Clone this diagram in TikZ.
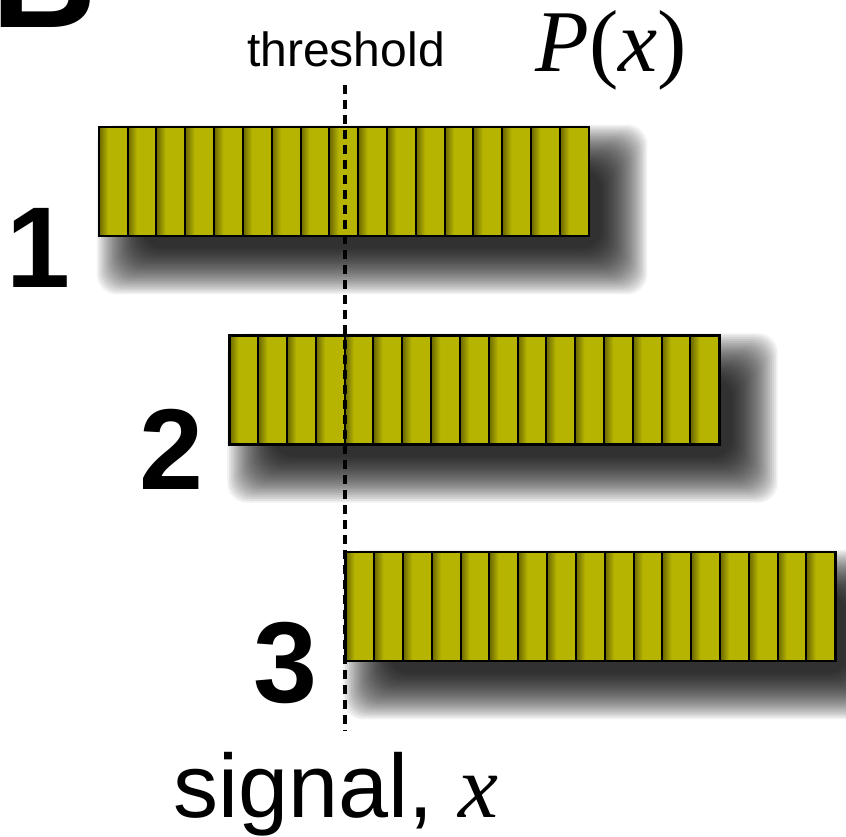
\documentclass[tikz,border=0pt]{standalone}
\usepackage{fontspec}
\setmainfont{Liberation Sans}
\newfontfamily\tms{Liberation Serif}
\usetikzlibrary{calc}
\definecolor{olivemain}{RGB}{182,180,0}
\definecolor{olivedark}{RGB}{105,102,0}
\pgfdeclarehorizontalshading{cellsh}{100bp}{color(0bp)=(olivedark); color(25bp)=(olivedark); color(41bp)=(olivemain); color(100bp)=(olivemain)}
\tikzset{
  barbox/.style={minimum width=490pt, minimum height=109pt, inner sep=0pt},
  shadowlayer/.style={fill=black, opacity=0.06, rounded corners=20pt},
  cellshade/.style={shading=cellsh},
  celline/.style={line width=2pt, draw=black},
  numlabel/.style={anchor=base, inner sep=0pt, font=\fontsize{115}{125}\selectfont\bfseries},
  thresh/.style={line width=3.5pt, dash pattern=on 9pt off 6pt},
}
\newcommand{\cellw}{28.82}
\begin{document}
\begin{tikzpicture}[x=1pt,y=-1pt]
\useasboundingbox (0,0) rectangle (846,837);
\clip (0,0) rectangle (846,837);
\fill[white] (0,0) rectangle (846,837);

% partial panel letter
\node[anchor=base west, inner sep=0pt, font=\fontsize{146}{150}\selectfont\bfseries] (B) at (-9,28) {B};

% bars
\node[barbox] (b1) at (344,181.5) {};
\node[barbox] (b2) at (474.5,390) {};
\node[barbox] (b3) at (590.5,606.5) {};
\foreach \b in {b1,b2,b3}{
  \foreach \k in {0,...,24}{
    \pgfmathsetmacro{\dd}{-30+\k*1.9}
    \fill[shadowlayer] ($(\b.north west)+(28+\dd,28+\dd)$) rectangle ($(\b.south east)+(28-\dd,28-\dd)$);
  }
  \foreach \i in {0,...,16}{
    \shade[cellshade] ($(\b.north west)+(\i*\cellw,0)$) rectangle ++(\cellw,109);
    \draw[celline] ($(\b.north west)+(\i*\cellw,0)$) rectangle ++(\cellw,109);
  }
  \draw[line width=2.5pt] (\b.north west) rectangle (\b.south east);
}

% threshold line
\coordinate (t1) at (345,85);
\coordinate (t2) at (345,731);
\draw[thresh] (t1) -- (t2);

% texts
\node[anchor=base, inner sep=0pt, font=\fontsize{48}{56}\selectfont] (thr) at (346,67) {threshold};
\node[anchor=base, inner sep=0pt, font=\fontsize{88}{96}\selectfont\tms] (px) at (611,72) {\textit{P}(\textit{x})};
\node[anchor=base, inner sep=0pt, font=\fontsize{90}{100}\selectfont] (sig) at (336,817) {signal, {\tms\itshape x}};

\node[numlabel] (n1) at (38,287) {1};
\node[numlabel] (n2) at (171,489) {2};
\node[numlabel] (n3) at (285,702) {3};
\end{tikzpicture}
\end{document}
